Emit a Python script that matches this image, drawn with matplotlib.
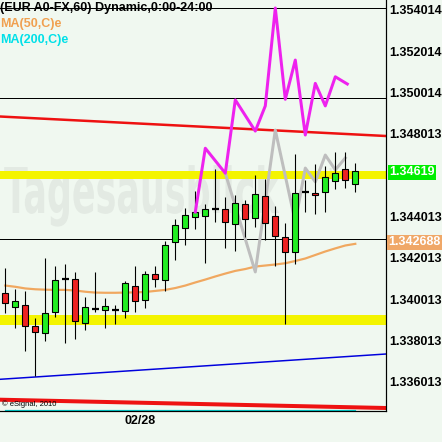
"""EUR A0-FX 60 min candle chart, eSignal style."""
import matplotlib
matplotlib.use("Agg")
import matplotlib.pyplot as plt
from matplotlib.patches import Rectangle, PathPatch
from matplotlib.textpath import TextPath
from matplotlib.font_manager import FontProperties
from matplotlib import transforms

# hourly candles
opens = [1.34030, 1.33961, 1.33971, 1.33870, 1.33836, 1.33940, 1.34097, 1.34098, 1.33884, 1.33955,
         1.33947, 1.33950, 1.33946, 1.34063, 1.33995, 1.34122, 1.34092, 1.34276, 1.34344, 1.34398,
         1.34406, 1.34439, 1.34436, 1.34364, 1.34460, 1.34396, 1.34499, 1.34402, 1.34301, 1.34228,
         1.34521, 1.34514, 1.34518, 1.34571, 1.34630, 1.34557]
highs = [1.34151, 1.34049, 1.34041, 1.33908, 1.34200, 1.34162, 1.34169, 1.34132, 1.34010, 1.34132,
         1.34006, 1.33971, 1.34088, 1.34161, 1.34138, 1.34161, 1.34283, 1.34389, 1.34441, 1.34525,
         1.34462, 1.34630, 1.34494, 1.34506, 1.34480, 1.34602, 1.34583, 1.34452, 1.34369, 1.34704,
         1.34578, 1.34656, 1.34647, 1.34712, 1.34712, 1.34659]
lows = [1.33933, 1.33863, 1.33752, 1.33629, 1.33800, 1.33916, 1.33790, 1.33810, 1.33853, 1.33940,
        1.33863, 1.33882, 1.33912, 1.33940, 1.33960, 1.34061, 1.34042, 1.34191, 1.34264, 1.34343,
        1.34176, 1.34376, 1.34247, 1.34236, 1.34304, 1.34352, 1.34288, 1.34163, 1.33882, 1.34173,
        1.34425, 1.34413, 1.34425, 1.34535, 1.34541, 1.34518]
closes = [1.33984, 1.33992, 1.33873, 1.33841, 1.33933, 1.34092, 1.34097, 1.33897, 1.33962, 1.33955,
          1.33967, 1.33950, 1.34078, 1.33990, 1.34122, 1.34097, 1.34262, 1.34359, 1.34407, 1.34422,
          1.34440, 1.34439, 1.34377, 1.34467, 1.34391, 1.34509, 1.34368, 1.34306, 1.34228, 1.34514,
          1.34521, 1.34504, 1.34591, 1.34611, 1.34577, 1.34620]

# MA(50,C)
ma50 = [1.34067, 1.34061, 1.34053, 1.34049, 1.34047, 1.34046, 1.34046, 1.34043, 1.34037, 1.34033,
        1.34032, 1.34032, 1.34033, 1.34034, 1.34036, 1.34041, 1.34046, 1.34055, 1.34067, 1.34082,
        1.34096, 1.34111, 1.34125, 1.34138, 1.34147, 1.34159, 1.34164, 1.34169, 1.34175, 1.34186,
        1.34198, 1.34215, 1.34232, 1.34247, 1.34261, 1.34269]
ma200_level = 1.33464

# projection lines (bar index, price)
magenta_idx = [19, 20, 22, 23, 25, 26, 27, 28, 29, 30, 31, 32, 33, 34.2]
magenta_val = [1.34423, 1.34732, 1.34611, 1.34966, 1.34815, 1.34937, 1.35411, 1.34969,
               1.35159, 1.34796, 1.35046, 1.34937, 1.35078, 1.35043]
gray_idx = [22, 25, 27, 29, 30, 31, 32, 33, 34]
gray_val = [1.34611, 1.34133, 1.34820, 1.34375, 1.34636, 1.34569, 1.34699, 1.34627, 1.34685]

# trend lines across the whole window: (left value, right value)
red_upper = (1.348856, 1.347912)
red_lower = (1.335142, 1.334740)
blue_trend = (1.336130, 1.337355)

# zones and levels
band_upper = (1.345806, 1.346241)
band_lower = (1.338760, 1.339244)
hlevels = [1.354096, 1.349752, 1.342924]

ytick_vals = [1.336013, 1.338013, 1.340013, 1.342013, 1.344013,
              1.346013, 1.348013, 1.350014, 1.352014, 1.354014]
last_price = "1.34619"
ma50_last = "1.342688"
date_label = "02/28"
date_pos = 13.5

bg = '#F0F8F0'
up_col = '#22EE22'
dn_col = '#EE2222'
PX = 0.72  # one pixel in points at dpi 100

plt.rcParams['font.family'] = ['Liberation Sans', 'DejaVu Sans']

fig = plt.figure(figsize=(4.42, 4.42), dpi=100)
fig.patch.set_facecolor(bg)
ax = fig.add_axes([0, 31 / 442, 386 / 442, 411 / 442])
ax.set_facecolor('none')
ax.set_xlim(-0.53, 38.07)
ax.set_ylim(1.334595, 1.354498)
x0, x1 = ax.get_xlim()

# watermark, squeezed horizontally
tp = TextPath((0, 0), "Tagesausblick", size=1,
              prop=FontProperties(family='DejaVu Sans', weight='bold'))
ext = tp.get_extents()
sx = 275 / ext.width / 442
sy = 63 / 442
wm = PathPatch(tp, transform=transforms.Affine2D().scale(sx, sy).translate(4 / 442, 229 / 442)
               + fig.transFigure, fc='#E3EAE3', ec='none', zorder=0.5, clip_on=False)
ax.add_patch(wm)
ax.text(0.83, 0.565, ".de", transform=ax.transAxes, fontsize=10, fontweight='bold',
        color='#E3EAE3', zorder=0.5)

# zones
for lo, hi in (band_upper, band_lower):
    ax.axhspan(lo, hi, color='#F4F400', lw=0, zorder=1)
for lv in hlevels:
    ax.axhline(lv, color='black', lw=PX, zorder=1.5)

ax.plot([x0, x1], blue_trend, color='#0000DD', lw=1.5 * PX, zorder=2)
ax.plot([x0, x1], red_upper, color='#EE1111', lw=2.5 * PX, zorder=2)
ax.plot([x0, x1], red_lower, color='#EE1111', lw=4 * PX, zorder=2)
ax.plot([0, len(closes) - 1], [ma200_level, ma200_level], color='#00CCCC', lw=1.2 * PX, zorder=2)
ax.plot(range(len(ma50)), ma50, color='#F0A860', lw=2.2 * PX, zorder=2.5)
ax.plot(gray_idx, gray_val, color='#BEBEBE', lw=3 * PX, zorder=2.6)

# candles
for i, (o, h, l, c) in enumerate(zip(opens, highs, lows, closes)):
    ax.vlines(i, l, h, color='black', lw=1.1 * PX, zorder=3)
    if o == c:
        ax.hlines(o, i - 0.32, i + 0.32, color='black', lw=2.2 * PX, zorder=3.5)
    else:
        ax.add_patch(Rectangle((i - 0.3, min(o, c)), 0.6, abs(c - o),
                               fc=up_col if c > o else dn_col, ec='black',
                               lw=1.1 * PX, zorder=3.5))

ax.plot(magenta_idx, magenta_val, color='#EE22EE', lw=3 * PX, zorder=4)

# axes
for s in ('left', 'top'):
    ax.spines[s].set_visible(False)
for s in ('right', 'bottom'):
    ax.spines[s].set_color('black')
    ax.spines[s].set_linewidth(1.2 * PX)
ax.yaxis.tick_right()
ax.set_yticks(ytick_vals)
# the 1.346013 label sits under the last-price box
ax.set_yticklabels(["" if abs(v - 1.346013) < 1e-7 else f"{v:.6f}" for v in ytick_vals])
ax.tick_params(axis='y', length=0, pad=2, labelsize=9)
ax.set_xticks([date_pos])
ax.set_xticklabels([date_label])
ax.tick_params(axis='x', length=0, pad=3, labelsize=9)
for lab in ax.get_yticklabels() + ax.get_xticklabels():
    lab.set_fontweight('bold')

# header texts
fig.text(0, 1 - 8 / 442, "(EUR A0-FX,60) Dynamic,0:00-24:00", fontsize=9,
         fontweight='bold', color='black', va='center', ha='left')
fig.text(0, 1 - 23.5 / 442, "MA(50,C)e", fontsize=9, fontweight='bold',
         color='#F0A050', va='center', ha='left')
fig.text(0, 1 - 39.5 / 442, "MA(200,C)e", fontsize=9, fontweight='bold',
         color='#00E0E8', va='center', ha='left')
fig.text(2 / 442, 1 - 404 / 442, "\u00a9 eSignal, 2010", fontsize=5.5,
         color='black', va='center', ha='left')

# last value boxes on the price scale
fig.text(389 / 442, 1 - 172 / 442, last_price, fontsize=9, fontweight='bold',
         color='white', va='center', ha='left',
         bbox=dict(boxstyle='square,pad=0.12', fc='#00EE00', ec='none'))
fig.text(388 / 442, 1 - 242 / 442, ma50_last, fontsize=9, fontweight='bold',
         color='white', va='center', ha='left',
         bbox=dict(boxstyle='square,pad=0.12', fc='#F0A868', ec='none'))

fig.savefig('out.png', dpi=100, facecolor=bg)
